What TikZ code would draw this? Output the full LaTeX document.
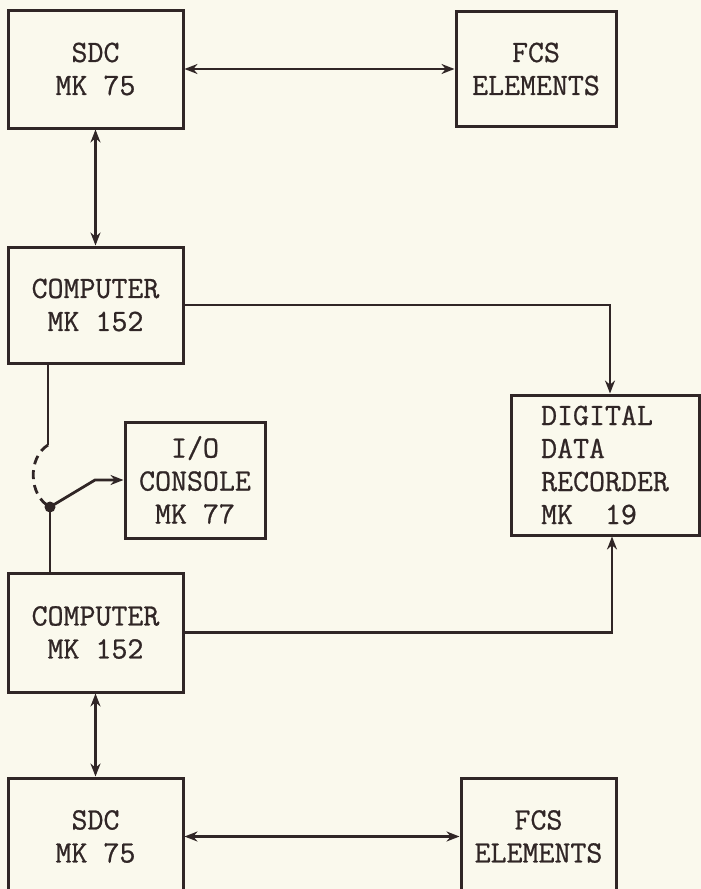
\documentclass[tikz,border=0pt]{standalone}
\usepackage{fontspec}
\usepackage{tikz}
\usetikzlibrary{arrows.meta,positioning,calc}
\newfontfamily\typer{Latin Modern Mono}[FakeBold=0.8]
\definecolor{paper}{RGB}{250,249,237}
\definecolor{ink}{RGB}{48,38,38}
\begin{document}
\begin{tikzpicture}[
    x=1pt, y=-1pt,
    unit/.style={rectangle, draw=ink, line width=3pt, minimum width=175pt, minimum height=118pt, inner sep=0pt, align=center, text=ink, font=\fontsize{31}{33}\selectfont\typer},
    wire/.style={draw=ink, line width=2.8pt},
    arrow/.style={wire, -{Stealth[length=13pt,width=10pt]}},
    biarrow/.style={wire, {Stealth[length=13pt,width=10pt]}-{Stealth[length=13pt,width=10pt]}},
    dot/.style={circle, fill=ink, inner sep=0pt, minimum size=11pt},
]
    \fill[paper] (0,0) rectangle (701,889);
    \useasboundingbox (0,0) rectangle (701,889);

    % Upper chain
    \node[unit] (sdcA) at (95.5,69) {SDC\\MK 75};
    \node[unit, minimum width=160pt, minimum height=115pt, right=270pt of sdcA] (fcsA) {FCS\\ELEMENTS};
    \node[unit, minimum height=116pt, below=116pt of sdcA] (compA) {COMPUTER\\MK 152};

    % Lower chain
    \node[unit, minimum height=119pt, below=207pt of compA] (compB) {COMPUTER\\MK 152};
    \node[unit, minimum height=117pt, below=83pt of compB] (sdcB) {SDC\\MK 75};
    \node[unit, minimum width=155pt, minimum height=117pt, right=275pt of sdcB] (fcsB) {FCS\\ELEMENTS};

    % Side units
    \node[unit, minimum width=140pt, minimum height=116pt] (con) at (195,480) {I/O\\CONSOLE\\MK 77};
    \node[unit, minimum width=188pt, minimum height=140pt, align=left] (rec) at (605,465) {DIGITAL\\DATA\\RECORDER\\MK~~19};

    % Data links
    \draw[biarrow] (sdcA.east) -- (fcsA.west);
    \draw[biarrow] (sdcA) -- (compA);
    \draw[arrow] (compA.east) -| ([xshift=5pt]rec.north);
    \draw[arrow] (compB.east) -| ([xshift=7pt]rec.south);
    \draw[biarrow] (compB) -- (sdcB);
    \draw[biarrow] (sdcB.east) -- (fcsB.west);

    % Console switch
    \coordinate (swA) at (48,445);
    \coordinate (knee) at (95,480);
    \node[dot] (pivot) at (50,507) {};
    \draw[wire] (compA.south -| swA) -- (swA);
    \draw[wire, dash pattern=on 9pt off 6pt] (swA) to[bend right=60] (pivot.center);
    \draw[arrow] (pivot.center) -- (knee) -- (con.west);
    \draw[wire] (pivot.center) -- (pivot |- compB.north);
\end{tikzpicture}
\end{document}
